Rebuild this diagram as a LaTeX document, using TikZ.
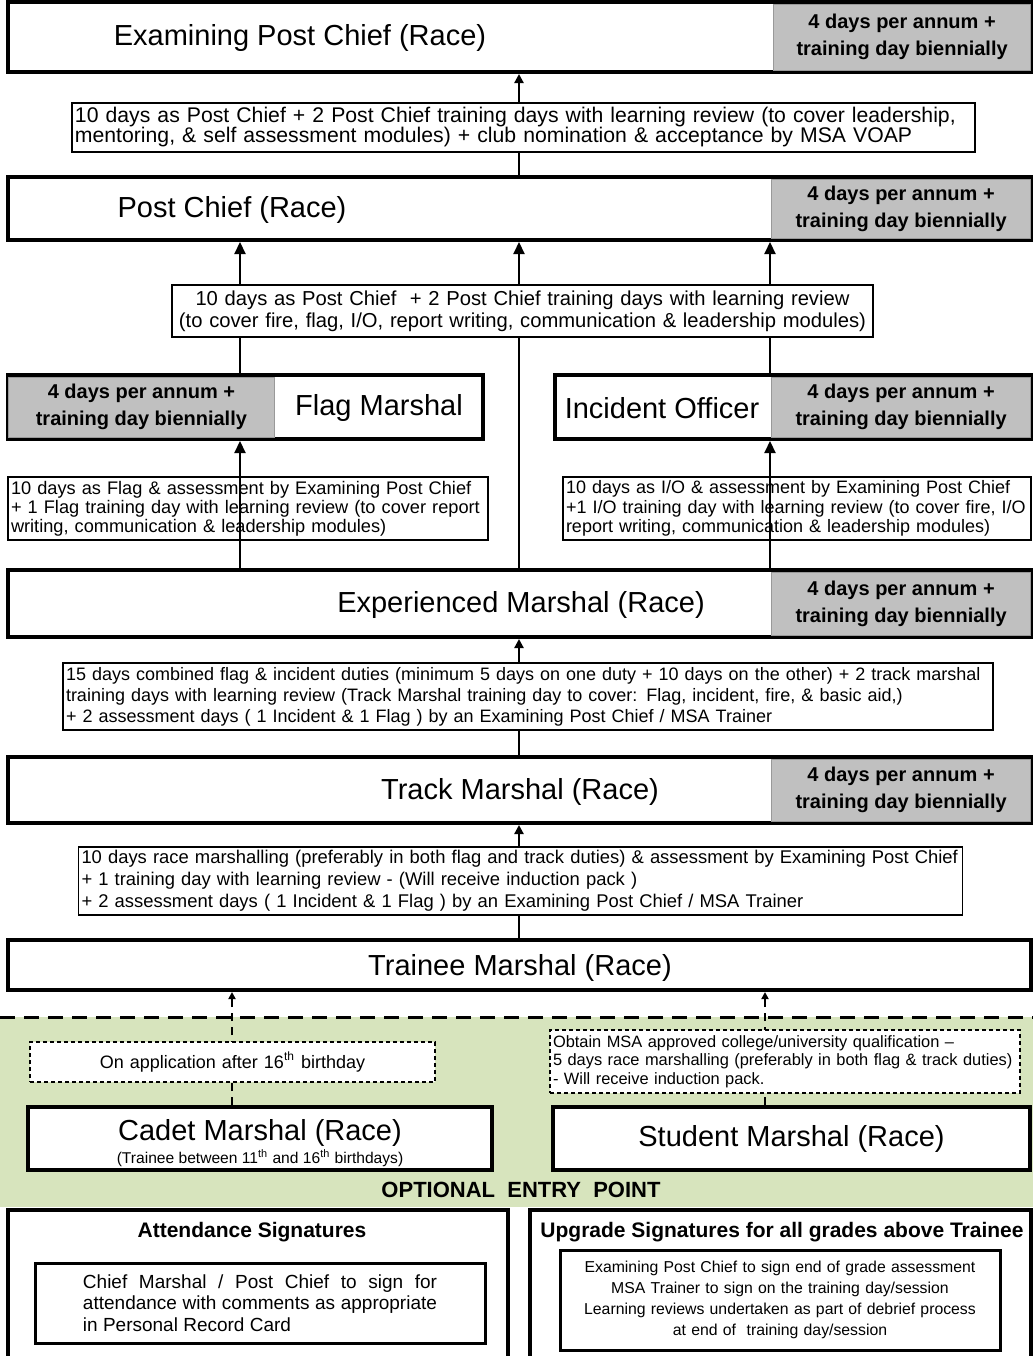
\documentclass[tikz,border=0pt]{standalone}
\usepackage{fontspec}
\setmainfont{Liberation Sans}
\usetikzlibrary{arrows.meta,positioning}

\definecolor{yeargrey}{RGB}{192,192,192}
\definecolor{entrygreen}{RGB}{215,228,189}
\newcommand{\fsz}[2]{\fontsize{#1}{#2}\selectfont}
\hyphenpenalty=10000
\exhyphenpenalty=10000

\pgfdeclarelayer{back}
\pgfdeclarelayer{wires}
\pgfsetlayers{back,wires,main}

\begin{document}
\begin{tikzpicture}[x=0.5pt, y=-0.5pt,
    grade/.style={rectangle, draw, fill=white, line width=2pt, inner sep=0pt, font=\fsz{14.5}{17}},
    yearly/.style={rectangle, fill=yeargrey, draw=black!40, line width=0.4pt, inner sep=0pt, align=center, font=\bfseries\fsz{10}{13.5}},
    gradename/.style={inner sep=0pt, font=\fsz{14.5}{17}},
    note/.style={rectangle, draw, line width=0.7pt, fill=white, inner xsep=1.5pt, inner ysep=0pt, align=left},
    entrynote/.style={note, dash pattern=on 2pt off 1.5pt, line width=0.6pt},
    sigtitle/.style={inner sep=0pt, font=\bfseries\fsz{10.5}{12}},
    up/.style={-{Triangle[length=6pt,width=5.5pt]}, line width=1.1pt},
    upsmall/.style={-{Triangle[length=4.5pt,width=4.5pt]}, line width=1.1pt},
    entryup/.style={-{Triangle[length=3.5pt,width=3.5pt]}, line width=1pt, dash pattern=on 4pt off 3pt}]

    \useasboundingbox (0,0) rectangle (1033,1356);

    % columns of the connectors
    \coordinate (lcol) at (240,0);
    \coordinate (mcol) at (519,0);
    \coordinate (rcol) at (770,0);
    \coordinate (ccol) at (232,0);
    \coordinate (scol) at (765,0);

    % grades
    \node[grade, minimum width=511.5pt, minimum height=35pt] (epc) at (519.5,37) {};
    \node[yearly, minimum width=128.5pt, minimum height=33pt, anchor=east] (epcyear) at ([xshift=-1pt]epc.east) {4 days per annum +\\training day biennially};
    \node[gradename] (epcname) at (300,38) {Examining Post Chief (Race)};

    \node[grade, minimum width=511.5pt, minimum height=31.5pt] (pc) at (519.5,208.5) {};
    \node[yearly, minimum width=129.5pt, minimum height=29.5pt, anchor=east] (pcyear) at ([xshift=-1pt]pc.east) {4 days per annum +\\training day biennially};
    \node[gradename] (pcname) at (232,210) {Post Chief (Race)};

    \node[grade, minimum width=237.5pt, minimum height=32pt] (flag) at (245.5,407) {};
    \node[yearly, minimum width=133pt, minimum height=30pt, anchor=west] (flagyear) at ([xshift=1pt]flag.west) {4 days per annum +\\training day biennially};
    \node[gradename] (flagname) at (379,408) {Flag Marshal};

    \node[grade, minimum width=238pt, minimum height=32pt] (io) at (793,407) {};
    \node[yearly, minimum width=129.5pt, minimum height=30pt, anchor=east] (ioyear) at ([xshift=-1pt]io.east) {4 days per annum +\\training day biennially};
    \node[gradename] (ioname) at (662,408) {Incident Officer};

    \node[grade, minimum width=511.5pt, minimum height=33.5pt] (em) at (519.5,603.5) {};
    \node[yearly, minimum width=129.5pt, minimum height=31.5pt, anchor=east] (emyear) at ([xshift=-1pt]em.east) {4 days per annum +\\training day biennially};
    \node[gradename] (emname) at (521,605) {Experienced Marshal (Race)};

    \node[grade, minimum width=511.5pt, minimum height=33pt] (tm) at (519.5,790) {};
    \node[yearly, minimum width=129.5pt, minimum height=31pt, anchor=east] (tmyear) at ([xshift=-1pt]tm.east) {4 days per annum +\\training day biennially};
    \node[gradename] (tmname) at (520,792) {Track Marshal (Race)};

    \node[grade, minimum width=511.5pt, minimum height=25pt] (trainee) at (519.5,965) {};
    \node[gradename] (traineename) at (520,968) {Trainee Marshal (Race)};

    % requirements
    \node[note, text width=448.5pt, minimum height=24.5pt, font=\fsz{10.6}{10}] (toepc) at (523.5,127.5)
        {10 days as Post Chief + 2 Post Chief training days with learning review (to cover leadership,\\mentoring, \& self assessment modules) + club nomination \& acceptance by MSA VOAP};
    \node[note, text width=347.5pt, minimum height=26pt, align=center, font=\fsz{10.1}{11}] (topc) at (522.5,311)
        {10 days as Post Chief \ + 2 Post Chief training days with learning review\\(to cover fire, flag, I/O, report writing, communication \& leadership modules)};
    \node[note, text width=237pt, minimum height=31.5pt, font=\fsz{9.1}{9.6}] (toflag) at (248,508.5)
        {10 days as Flag \& assessment by Examining Post Chief\\+ 1 Flag training day with learning review (to cover report\\writing, communication \& leadership modules)};
    \node[note, text width=231pt, minimum height=31.5pt, font=\fsz{9}{9.6}] (toio) at (797,508.5)
        {10 days as I/O \& assessment by Examining Post Chief\\+1 I/O training day with learning review (to cover fire, I/O\\report writing, communication \& leadership modules)};
    \node[note, text width=462pt, minimum height=33.5pt, font=\fsz{9}{10.5}] (toem) at (528,696.5)
        {15 days combined flag \& incident duties (minimum 5 days on one duty + 10 days on the other) + 2 track marshal\\training days with learning review (Track Marshal training day to cover: Flag, incident, fire, \& basic aid,)\\+ 2 assessment days ( 1 Incident \& 1 Flag ) by an Examining Post Chief / MSA Trainer};
    \node[note, text width=439pt, minimum height=34pt, font=\fsz{9.2}{11}] (totm) at (520.5,881)
        {10 days race marshalling (preferably in both flag and track duties) \& assessment by Examining Post Chief\\+ 1 training day with learning review - (Will receive induction pack )\\+ 2 assessment days ( 1 Incident \& 1 Flag ) by an Examining Post Chief / MSA Trainer};

    % optional entry
    \begin{pgfonlayer}{back}
        \fill[entrygreen] (0,1017) rectangle (1033,1207);
        \draw[line width=1.5pt, dash pattern=on 7.5pt off 4.5pt] (0,1017) -- (1033,1017);
    \end{pgfonlayer}

    \node[entrynote, text width=199.5pt, minimum height=20pt, align=center, font=\fsz{9}{10}] (tocadet) at (232.5,1062)
        {On application after 16\textsuperscript{th} birthday};
    \node[entrynote, text width=232pt, minimum height=31.5pt, font=\fsz{8.2}{9.3}] (tostudent) at (785,1061.5)
        {Obtain MSA approved college/university qualification --\\5 days race marshalling (preferably in both flag \& track duties)\\- Will receive induction pack.};

    \node[grade, minimum width=232pt, minimum height=31.5pt] (cadet) at (260,1138.5) {};
    \node[gradename] (cadetname) at (260,1133) {Cadet Marshal (Race)};
    \node[inner sep=0pt, font=\fsz{7.8}{9}] (cadetage) at (260,1158) {(Trainee between 11\textsuperscript{th} and 16\textsuperscript{th} birthdays)};
    \node[grade, minimum width=238.5pt, minimum height=31.5pt] (student) at (791.5,1138.5) {Student Marshal (Race)};

    \node[inner sep=0pt, font=\bfseries\fsz{11}{12}] (optional) at (521,1190) {OPTIONAL\ \ ENTRY\ \ POINT};

    % signatures
    \node[grade, minimum width=250pt, minimum height=80pt] (att) at (258,1290) {};
    \node[sigtitle] (atttitle) at (252,1232) {Attendance Signatures};
    \node[note, line width=1.5pt, text width=177pt, minimum width=225pt, minimum height=40pt, align=justify, font=\fsz{9.5}{10.75}] (attnote) at (260,1303)
        {Chief Marshal / Post Chief to sign for\linebreak attendance with comments as appropriate\linebreak in Personal Record Card};

    \node[grade, minimum width=250.5pt, minimum height=80pt] (upg) at (780.5,1290) {};
    \node[sigtitle] (upgtitle) at (782,1232) {Upgrade Signatures for all grades above Trainee};
    \node[note, line width=1.5pt, text width=217pt, minimum height=50pt, align=center, font=\fsz{7.9}{10.5}] (upgnote) at (780,1300)
        {Examining Post Chief to sign end of grade assessment\\MSA Trainer to sign on the training day/session\\Learning reviews undertaken as part of debrief process\\at end of\ \ training day/session};

    % connectors behind the notes
    \begin{pgfonlayer}{wires}
        \draw[upsmall] (pc.north -| mcol) -- (epc.south -| mcol);
        \draw[up] (flag.north -| lcol) -- (pc.south -| lcol);
        \draw[up] (em.north -| mcol) -- (pc.south -| mcol);
        \draw[up] (io.north -| rcol) -- (pc.south -| rcol);
        \draw[upsmall] (tm.north -| mcol) -- (em.south -| mcol);
        \draw[upsmall] (trainee.north -| mcol) -- (tm.south -| mcol);
        \draw[entryup] (cadet.north -| ccol) -- (trainee.south -| ccol);
        \draw[entryup] (student.north -| scol) -- (trainee.south -| scol);
    \end{pgfonlayer}

    % connectors over the notes
    \draw[up] (em.north -| lcol) -- (flag.south -| lcol);
    \draw[up] (em.north -| rcol) -- (io.south -| rcol);
\end{tikzpicture}
\end{document}
